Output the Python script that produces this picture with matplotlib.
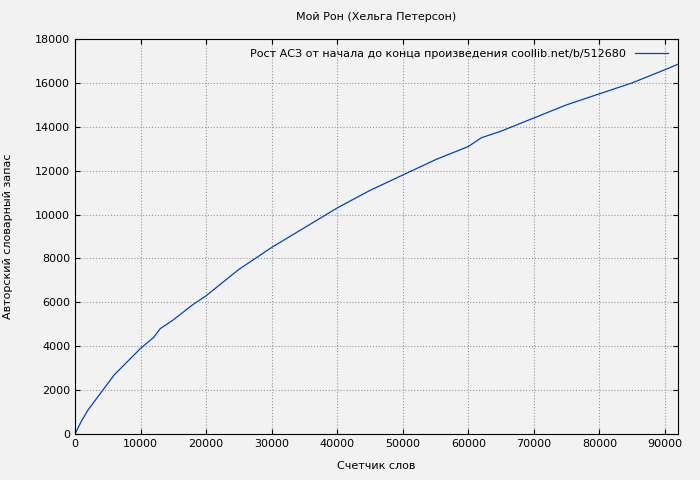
import matplotlib
matplotlib.use("Agg")
import matplotlib.pyplot as plt

words = [0, 1000, 2000, 3500, 5000, 6000, 8000, 10000, 12000, 13000, 15000, 18000, 20000, 25000, 30000,
         35000, 40000, 45000, 50000, 55000, 60000, 62000, 65000, 70000, 75000, 80000, 85000, 90000, 92000]
vocab = [0, 600, 1100, 1700, 2300, 2700, 3300, 3900, 4400, 4800, 5200, 5900, 6300, 7500, 8500,
         9400, 10300, 11100, 11800, 12500, 13100, 13500, 13800, 14400, 15000, 15500, 16000, 16600, 16850]

plt.rcParams['font.family'] = ['DejaVu Sans']
fig = plt.figure(figsize=(7, 4.8), dpi=100, facecolor='#f2f2f2')
ax = fig.add_axes([75/700, 1-434/480, 603/700, 395/480])
ax.set_facecolor('#f2f2f2')
ax.plot(words, vocab, color='#0044bb', lw=0.9, label='Рост АСЗ от начала до конца произведения coollib.net/b/512680')
ax.set_xlim(0, 92000)
ax.set_ylim(0, 18000)
ax.set_xticks(range(0, 92000, 10000))
ax.set_yticks(range(0, 18001, 2000))
ax.grid(True, color='#999999', ls=':', lw=0.8)
ax.tick_params(labelsize=8, direction='in', top=True, right=True)
ax.set_title('Мой Рон (Хельга Петерсон)', fontsize=8, pad=14)
ax.set_xlabel('Счетчик слов', fontsize=8, labelpad=9)
ax.set_ylabel('Авторский словарный запас', fontsize=8, labelpad=16)
leg = ax.legend(loc='upper right', fontsize=8, frameon=False, markerfirst=False, handlelength=3)
fig.savefig('out.png', facecolor=fig.get_facecolor())
